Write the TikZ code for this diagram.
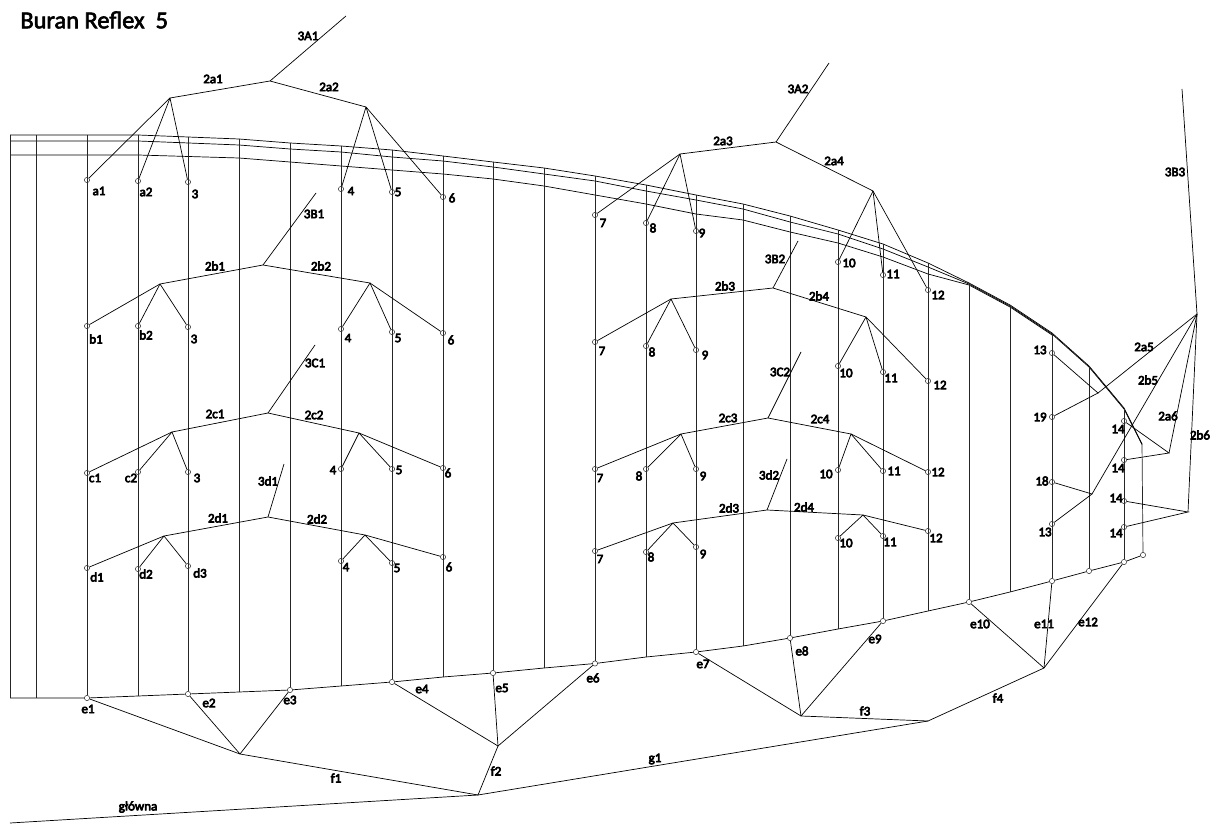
\documentclass[tikz,border=0pt]{standalone}
\usepackage{fontspec}
\setmainfont{Carlito}
\newfontfamily\heavyfont[FakeBold=2.5]{Carlito}
\newfontfamily\labfont[FakeBold=5]{Carlito}
\usetikzlibrary{positioning,calc}

\begin{document}
\begin{tikzpicture}[x=0.02cm,y=-0.02cm,line width=0.4pt,
  ele/.style={draw=black!80,circle,inner sep=0pt,minimum size=0.105cm,line width=0.3pt},
  lab/.style={inner sep=0pt,font=\fontsize{7.4}{8}\labfont},
  rib/.style={draw=black!85}]
  \useasboundingbox (0,0) rectangle (1220,834);
  \node[inner sep=0pt,anchor=west,font=\fontsize{13.9}{16}\heavyfont] (title) at (20,20) {Buran Reflex\ \ 5};

  % upper skin, three lines
  \coordinate (t1) at (10,135);
  \coordinate (t2) at (36,135);
  \coordinate (t3) at (87,135);
  \coordinate (t4) at (138,135);
  \coordinate (t5) at (188,137);
  \coordinate (t6) at (239,139);
  \coordinate (t7) at (290,143);
  \coordinate (t8) at (341,146);
  \coordinate (t9) at (392,150);
  \coordinate (t10) at (443,156);
  \coordinate (t11) at (493,162);
  \coordinate (t12) at (544,168);
  \coordinate (t13) at (595,176);
  \coordinate (t14) at (646,185);
  \coordinate (t15) at (696,195);
  \coordinate (t16) at (743,204);
  \coordinate (t17) at (790,216);
  \coordinate (t18) at (838,230);
  \coordinate (t19) at (883,244);
  \coordinate (t20) at (928,263);
  \coordinate (t21) at (969,283);
  \coordinate (t22) at (1010,305);
  \coordinate (t23) at (1052,333);
  \coordinate (t24) at (1089,366);
  \coordinate (t25) at (1124,408);
  \coordinate (t26) at (1142,444);
  \draw (t1) -- (t2) -- (t3) -- (t4) -- (t5) -- (t6) -- (t7) -- (t8) -- (t9) -- (t10) -- (t11) -- (t12) -- (t13) -- (t14) -- (t15) -- (t16) -- (t17) -- (t18) -- (t19) -- (t20) -- (t21) -- (t22) -- (t23) -- (t24) -- (t25) -- (t26);
  \coordinate (u1) at (10,141);
  \coordinate (u2) at (138,141);
  \coordinate (u3) at (239,145);
  \coordinate (u4) at (290,149);
  \coordinate (u5) at (341,152);
  \coordinate (u6) at (392,157);
  \coordinate (u7) at (443,161);
  \coordinate (u8) at (493,167);
  \coordinate (u9) at (544,174);
  \coordinate (u10) at (595,181);
  \coordinate (u11) at (646,191);
  \coordinate (u12) at (696,200);
  \coordinate (u13) at (743,209);
  \coordinate (u14) at (790,222);
  \coordinate (u15) at (838,234);
  \coordinate (u16) at (883,249);
  \coordinate (u17) at (928,267);
  \coordinate (u18) at (969,284);
  \coordinate (u19) at (1010,306);
  \coordinate (u20) at (1052,334);
  \coordinate (u21) at (1089,367);
  \coordinate (u22) at (1124,409);
  \coordinate (u23) at (1142,444.5);
  \draw (u1) -- (u2) -- (u3) -- (u4) -- (u5) -- (u6) -- (u7) -- (u8) -- (u9) -- (u10) -- (u11) -- (u12) -- (u13) -- (u14) -- (u15) -- (u16) -- (u17) -- (u18) -- (u19) -- (u20) -- (u21) -- (u22) -- (u23);
  \coordinate (v1) at (10,155);
  \coordinate (v2) at (138,155);
  \coordinate (v3) at (239,158);
  \coordinate (v4) at (290,162);
  \coordinate (v5) at (341,166);
  \coordinate (v6) at (392,170);
  \coordinate (v7) at (443,174);
  \coordinate (v8) at (493,179);
  \coordinate (v9) at (544,186);
  \coordinate (v10) at (595,195);
  \coordinate (v11) at (646,204);
  \coordinate (v12) at (696,214);
  \coordinate (v13) at (743,220);
  \coordinate (v14) at (790,232);
  \coordinate (v15) at (838,243);
  \coordinate (v16) at (883,257);
  \coordinate (v17) at (928,274);
  \coordinate (v18) at (969,285);
  \coordinate (v19) at (1010,307);
  \coordinate (v20) at (1052,335);
  \draw (v1) -- (v2) -- (v3) -- (v4) -- (v5) -- (v6) -- (v7) -- (v8) -- (v9) -- (v10) -- (v11) -- (v12) -- (v13) -- (v14) -- (v15) -- (v16) -- (v17) -- (v18) -- (v19) -- (v20);

  % lower skin
  \coordinate (s1) at (10,698);
  \coordinate (s2) at (36,698);
  \node[ele] (e1) at (87,698) {};
  \coordinate (s4) at (138,696);
  \node[ele] (e2) at (188,694) {};
  \coordinate (s6) at (239,692);
  \node[ele] (e3) at (290,690) {};
  \coordinate (s8) at (341,686);
  \node[ele] (e4) at (392,682) {};
  \coordinate (s10) at (443,677);
  \node[ele] (e5) at (493,673) {};
  \coordinate (s12) at (544,668);
  \node[ele] (e6) at (595,663.5) {};
  \coordinate (s14) at (646,657);
  \node[ele] (e7) at (696,652) {};
  \coordinate (s16) at (743,646);
  \node[ele] (e8) at (790,638) {};
  \coordinate (s18) at (838,629);
  \node[ele] (e9) at (883,621) {};
  \coordinate (s20) at (928,611);
  \node[ele] (e10) at (969,602) {};
  \coordinate (s22) at (1010,592);
  \node[ele] (e11) at (1052,581) {};
  \node[ele] (e11b) at (1089,571) {};
  \node[ele] (e12) at (1124,562) {};
  \node[ele] (e13) at (1143,555) {};
  \draw (s1) -- (s2) -- (e1) -- (s4) -- (e2) -- (s6) -- (e3) -- (s8) -- (e4) -- (s10) -- (e5) -- (s12) -- (e6) -- (s14) -- (e7) -- (s16) -- (e8) -- (s18) -- (e9) -- (s20) -- (e10) -- (s22) -- (e11) -- (e11b) -- (e12) -- (e13);

  % ribs
  \draw[rib] (t1) -- (s1);
  \draw[rib] (t2) -- (s2);
  \draw[rib] (t3) -- (e1);
  \draw[rib] (t4) -- (s4);
  \draw[rib] (t5) -- (e2);
  \draw[rib] (t6) -- (s6);
  \draw[rib] (t7) -- (e3);
  \draw[rib] (t8) -- (s8);
  \draw[rib] (t9) -- (e4);
  \draw[rib] (t10) -- (s10);
  \draw[rib] (t11) -- (e5);
  \draw[rib] (t12) -- (s12);
  \draw[rib] (t13) -- (e6);
  \draw[rib] (t14) -- (s14);
  \draw[rib] (t15) -- (e7);
  \draw[rib] (t16) -- (s16);
  \draw[rib] (t17) -- (e8);
  \draw[rib] (t18) -- (s18);
  \draw[rib] (t19) -- (e9);
  \draw[rib] (t20) -- (s20);
  \draw[rib] (t21) -- (e10);
  \draw[rib] (t22) -- (s22);
  \draw[rib] (t23) -- (e11);
  \draw[rib] (t24) -- (e11b);
  \draw[rib] (t25) -- (e12);
  \draw[rib] (t26) -- (e13);

  % row a
  \node[ele] (a1) at (87,180) {};
  \node[ele] (a2) at (138,181) {};
  \node[ele] (a3) at (188,182) {};
  \node[ele] (a4) at (341,189) {};
  \node[ele] (a5) at (392,192) {};
  \node[ele] (a6) at (443,197) {};
  \node[ele] (a7) at (595,215) {};
  \node[ele] (a8) at (646,223) {};
  \node[ele] (a9) at (696,231) {};
  \node[ele] (a10) at (838,262) {};
  \node[ele] (a11) at (883,275) {};
  \node[ele] (a12) at (928,290) {};
  \coordinate (A1) at (346,16);
  \coordinate (A1t) at (270,81);
  \coordinate (A1l) at (170,98);
  \coordinate (A1r) at (366,107);
  \coordinate (A2) at (829,63);
  \coordinate (A2t) at (776,142);
  \coordinate (A2l) at (680,154);
  \coordinate (A2r) at (873,191);
  \draw (A1) -- (A1t);
  \draw (A1l) -- (A1t) -- (A1r);
  \draw (A1l) -- (a1);
  \draw (A1l) -- (a2);
  \draw (A1l) -- (a3);
  \draw (A1r) -- (a4);
  \draw (A1r) -- (a5);
  \draw (A1r) -- (a6);
  \draw (A2) -- (A2t);
  \draw (A2l) -- (A2t) -- (A2r);
  \draw (A2l) -- (a7);
  \draw (A2l) -- (a8);
  \draw (A2l) -- (a9);
  \draw (A2r) -- (a10);
  \draw (A2r) -- (a11);
  \draw (A2r) -- (a12);

  % row b
  \node[ele] (b1) at (87,326) {};
  \node[ele] (b2) at (138,326) {};
  \node[ele] (b3) at (188,327) {};
  \node[ele] (b4) at (341,329) {};
  \node[ele] (b5) at (392,332) {};
  \node[ele] (b6) at (443,333) {};
  \node[ele] (b7) at (595,342) {};
  \node[ele] (b8) at (646,346) {};
  \node[ele] (b9) at (696,350) {};
  \node[ele] (b10) at (838,366) {};
  \node[ele] (b11) at (883,372) {};
  \node[ele] (b12) at (928,381) {};
  \coordinate (B1) at (316,193);
  \coordinate (B1t) at (263,265);
  \coordinate (B1l) at (160,284);
  \coordinate (B1r) at (370,283);
  \coordinate (B2) at (798,241);
  \coordinate (B2t) at (773,288);
  \coordinate (B2l) at (671,299);
  \coordinate (B2r) at (866,317);
  \draw (B1) -- (B1t);
  \draw (B1l) -- (B1t) -- (B1r);
  \draw (B1l) -- (b1);
  \draw (B1l) -- (b2);
  \draw (B1l) -- (b3);
  \draw (B1r) -- (b4);
  \draw (B1r) -- (b5);
  \draw (B1r) -- (b6);
  \draw (B2) -- (B2t);
  \draw (B2l) -- (B2t) -- (B2r);
  \draw (B2l) -- (b7);
  \draw (B2l) -- (b8);
  \draw (B2l) -- (b9);
  \draw (B2r) -- (b10);
  \draw (B2r) -- (b11);
  \draw (B2r) -- (b12);

  % row c
  \node[ele] (c1) at (87,473) {};
  \node[ele] (c2) at (138,472) {};
  \node[ele] (c3) at (188,472) {};
  \node[ele] (c4) at (341,469) {};
  \node[ele] (c5) at (392,469) {};
  \node[ele] (c6) at (443,468) {};
  \node[ele] (c7) at (595,469) {};
  \node[ele] (c8) at (646,469) {};
  \node[ele] (c9) at (696,469) {};
  \node[ele] (c10) at (838,470) {};
  \node[ele] (c11) at (883,471) {};
  \node[ele] (c12) at (928,472) {};
  \coordinate (C1) at (315,345);
  \coordinate (C1t) at (268,413);
  \coordinate (C1l) at (172,432);
  \coordinate (C1r) at (359,433);
  \coordinate (C2) at (801,352);
  \coordinate (C2t) at (768,418);
  \coordinate (C2l) at (681,434);
  \coordinate (C2r) at (851,434);
  \draw (C1) -- (C1t);
  \draw (C1l) -- (C1t) -- (C1r);
  \draw (C1l) -- (c1);
  \draw (C1l) -- (c2);
  \draw (C1l) -- (c3);
  \draw (C1r) -- (c4);
  \draw (C1r) -- (c5);
  \draw (C1r) -- (c6);
  \draw (C2) -- (C2t);
  \draw (C2l) -- (C2t) -- (C2r);
  \draw (C2l) -- (c7);
  \draw (C2l) -- (c8);
  \draw (C2l) -- (c9);
  \draw (C2r) -- (c10);
  \draw (C2r) -- (c11);
  \draw (C2r) -- (c12);

  % row d
  \node[ele] (d1) at (87,568) {};
  \node[ele] (d2) at (138,569) {};
  \node[ele] (d3) at (188,566) {};
  \node[ele] (d4) at (341,561) {};
  \node[ele] (d5) at (392,563) {};
  \node[ele] (d6) at (443,557) {};
  \node[ele] (d7) at (595,551) {};
  \node[ele] (d8) at (646,552) {};
  \node[ele] (d9) at (696,547) {};
  \node[ele] (d10) at (838,538) {};
  \node[ele] (d11) at (883,536) {};
  \node[ele] (d12) at (928,531) {};
  \coordinate (D1) at (284,464);
  \coordinate (D1t) at (268,517);
  \coordinate (D1l) at (164,536);
  \coordinate (D1r) at (365,535);
  \coordinate (D2) at (787,459);
  \coordinate (D2t) at (767,510);
  \coordinate (D2l) at (673,523);
  \coordinate (D2r) at (863,515);
  \draw (D1) -- (D1t);
  \draw (D1l) -- (D1t) -- (D1r);
  \draw (D1l) -- (d1);
  \draw (D1l) -- (d2);
  \draw (D1l) -- (d3);
  \draw (D1r) -- (d4);
  \draw (D1r) -- (d5);
  \draw (D1r) -- (d6);
  \draw (D2) -- (D2t);
  \draw (D2l) -- (D2t) -- (D2r);
  \draw (D2l) -- (d7);
  \draw (D2l) -- (d8);
  \draw (D2l) -- (d9);
  \draw (D2r) -- (d10);
  \draw (D2r) -- (d11);
  \draw (D2r) -- (d12);

  % tip
  \node[ele] (r1) at (1052,353) {};
  \node[ele] (r2) at (1052,417) {};
  \node[ele] (r3) at (1052,482) {};
  \node[ele] (r4) at (1052,524) {};
  \node[ele] (r5) at (1124,421) {};
  \node[ele] (r6) at (1124,460) {};
  \node[ele] (r7) at (1124,501) {};
  \node[ele] (r8) at (1124,527) {};
  \coordinate (B3) at (1182,89);
  \coordinate (hub) at (1197,314);
  \coordinate (k5) at (1098,393);
  \coordinate (m5) at (1092,494);
  \coordinate (k6) at (1169,453);
  \coordinate (m6) at (1188,512);
  \draw (B3) -- (hub);
  \draw (hub) -- (k5);
  \draw (hub) -- (m5);
  \draw (hub) -- (k6);
  \draw (hub) -- (m6);
  \draw (r1) -- (k5) -- (r2);
  \draw (r3) -- (m5) -- (r4);
  \draw (r5) -- (k6) -- (r6);
  \draw (r7) -- (m6) -- (r8);

  % lower lines
  \coordinate (f1l) at (240,754);
  \coordinate (f2t) at (498,746);
  \coordinate (g1l) at (478,795);
  \coordinate (f3l) at (801,716);
  \coordinate (g1r) at (928,721);
  \coordinate (f4r) at (1044,668);
  \coordinate (gnd) at (10,823);
  \draw (e1) -- (f1l);
  \draw (e2) -- (f1l);
  \draw (e3) -- (f1l);
  \draw (e4) -- (f2t);
  \draw (e5) -- (f2t);
  \draw (e6) -- (f2t);
  \draw (e7) -- (f3l);
  \draw (e8) -- (f3l);
  \draw (e9) -- (f3l);
  \draw (e10) -- (f4r);
  \draw (e11) -- (f4r);
  \draw (e12) -- (f4r);
  \draw (f1l) -- (g1l);
  \draw (f2t) -- (g1l);
  \draw (f3l) -- (g1r);
  \draw (f4r) -- (g1r);
  \draw (g1r) -- (g1l);
  \draw (g1l) -- (gnd);

  % labels
  \node[lab] (l3A1) at (308,36) {3A1};
  \node[lab] (l2a1) at (213,79) {2a1};
  \node[lab] (l2a2) at (329,87) {2a2};
  \node[lab] (la1) at (99,191) {a1};
  \node[lab] (la2) at (146,192) {a2};
  \node[lab] (la3) at (195,194) {3};
  \node[lab] (la4) at (351,191) {4};
  \node[lab] (la5) at (398,192) {5};
  \node[lab] (la6) at (452,198) {6};
  \node[lab] (l3A2) at (798,89) {3A2};
  \node[lab] (l2a3) at (723,141) {2a3};
  \node[lab] (l2a4) at (834,161) {2a4};
  \node[lab] (la7) at (603,223) {7};
  \node[lab] (la8) at (653,228) {8};
  \node[lab] (la9) at (702,233) {9};
  \node[lab] (la10) at (849,263) {10};
  \node[lab] (la11) at (893,274) {11};
  \node[lab] (la12) at (938,295) {12};

  \node[lab] (l3B1) at (314,214) {3B1};
  \node[lab] (l2b1) at (215,266) {2b1};
  \node[lab] (l2b2) at (321,266) {2b2};
  \node[lab] (lb1) at (96,339) {b1};
  \node[lab] (lb2) at (146,335) {b2};
  \node[lab] (lb3) at (194,339) {3};
  \node[lab] (lb4) at (348,338) {4};
  \node[lab] (lb5) at (398,338) {5};
  \node[lab] (lb6) at (451,340) {6};
  \node[lab] (l3B2) at (775,259) {3B2};
  \node[lab] (l2b3) at (725,286) {2b3};
  \node[lab] (l2b4) at (819,296) {2b4};
  \node[lab] (lb7) at (602,351) {7};
  \node[lab] (lb8) at (652,352) {8};
  \node[lab] (lb9) at (705,355) {9};
  \node[lab] (lb10) at (846,373) {10};
  \node[lab] (lb11) at (891,378) {11};
  \node[lab] (lb12) at (940,385) {12};

  \node[lab] (l3C1) at (315,363) {3C1};
  \node[lab] (l2c1) at (215,414) {2c1};
  \node[lab] (l2c2) at (314,415) {2c2};
  \node[lab] (lc1) at (95,478) {c1};
  \node[lab] (lc2) at (131,478) {c2};
  \node[lab] (lc3) at (197,478) {3};
  \node[lab] (lc4) at (333,470) {4};
  \node[lab] (lc5) at (399,470) {5};
  \node[lab] (lc6) at (448,473) {6};
  \node[lab] (l3C2) at (780,372) {3C2};
  \node[lab] (l2c3) at (728,418) {2c3};
  \node[lab] (l2c4) at (820,419) {2c4};
  \node[lab] (lc7) at (600,478) {7};
  \node[lab] (lc8) at (639,476) {8};
  \node[lab] (lc9) at (703,476) {9};
  \node[lab] (lc10) at (826,474) {10};
  \node[lab] (lc11) at (894,471) {11};
  \node[lab] (lc12) at (938,472) {12};

  \node[lab] (l3d1) at (268,481) {3d1};
  \node[lab] (l2d1) at (218,518) {2d1};
  \node[lab] (l2d2) at (317,519) {2d2};
  \node[lab] (ld1) at (97,577) {d1};
  \node[lab] (ld2) at (146,574) {d2};
  \node[lab] (ld3) at (200,573) {d3};
  \node[lab] (ld4) at (346,567) {4};
  \node[lab] (ld5) at (397,568) {5};
  \node[lab] (ld6) at (449,567) {6};
  \node[lab] (l3d2) at (769,475) {3d2};
  \node[lab] (l2d3) at (729,508) {2d3};
  \node[lab] (l2d4) at (804,507) {2d4};
  \node[lab] (ld7) at (600,559) {7};
  \node[lab] (ld8) at (651,557) {8};
  \node[lab] (ld9) at (703,554) {9};
  \node[lab] (ld10) at (846,543) {10};
  \node[lab] (ld11) at (890,542) {11};
  \node[lab] (ld12) at (936,538) {12};

  \node[lab] (l3B3) at (1175,172) {3B3};
  \node[lab] (l2a5) at (1144,347) {2a5};
  \node[lab] (l2b5) at (1148,380) {2b5};
  \node[lab] (l2a6) at (1168,416) {2a6};
  \node[lab] (l2b6) at (1200,435) {2b6};
  \node[lab] (lr1) at (1040,350) {13};
  \node[lab] (lr2) at (1040,417) {19};
  \node[lab] (lr3) at (1042,481) {18};
  \node[lab] (lr4) at (1045,532) {13};
  \node[lab] (lr5) at (1118,429) {14};
  \node[lab] (lr6) at (1118,468) {14};
  \node[lab] (lr7) at (1116,498) {14};
  \node[lab] (lr8) at (1116,533) {14};

  \node[lab] (le1) at (88,709) {e1};
  \node[lab] (le2) at (209,703) {e2};
  \node[lab] (le3) at (290,700) {e3};
  \node[lab] (le4) at (422,689) {e4};
  \node[lab] (le5) at (502,688) {e5};
  \node[lab] (le6) at (593,678) {e6};
  \node[lab] (le7) at (703,664) {e7};
  \node[lab] (le8) at (802,651) {e8};
  \node[lab] (le9) at (875,639) {e9};
  \node[lab] (le10) at (980,624) {e10};
  \node[lab] (le11) at (1044,624) {e11};
  \node[lab] (le12) at (1088,622) {e12};
  \node[lab] (lf1) at (336,778) {f1};
  \node[lab] (lf2) at (496,771) {f2};
  \node[lab] (lf3) at (865,711) {f3};
  \node[lab] (lf4) at (998,698) {f4};
  \node[lab] (lg1) at (655,759) {g1};
  \node[lab] (lgnd) at (138,807) {główna};
\end{tikzpicture}
\end{document}
